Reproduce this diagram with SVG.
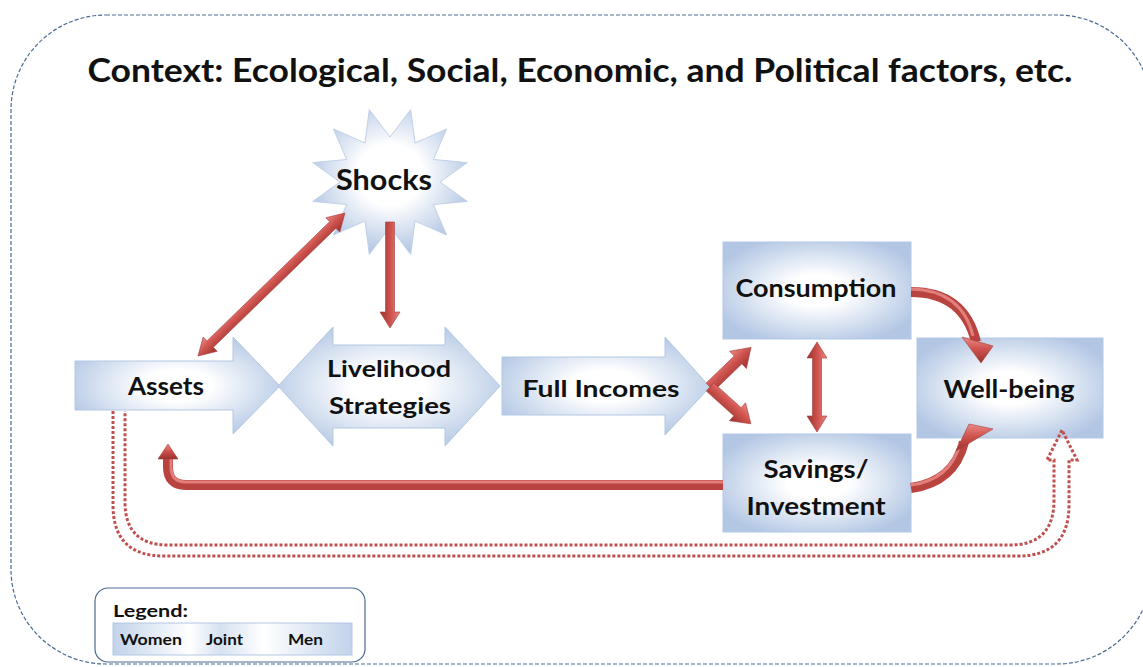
<svg xmlns="http://www.w3.org/2000/svg" width="1143" height="667" viewBox="0 0 1143 667">
<defs>
<radialGradient id="blueG" cx="50%" cy="50%" r="58%">
<stop offset="0" stop-color="#ffffff"/>
<stop offset="0.28" stop-color="#ffffff"/>
<stop offset="1" stop-color="#b3c7e4"/>
</radialGradient>
<radialGradient id="starG" cx="50%" cy="45%" r="55%">
<stop offset="0" stop-color="#ffffff"/>
<stop offset="0.38" stop-color="#ffffff"/>
<stop offset="1" stop-color="#b3c6e3"/>
</radialGradient>
<linearGradient id="legG" x1="0" y1="0" x2="1" y2="0">
<stop offset="0" stop-color="#c2d3ea"/>
<stop offset="0.32" stop-color="#ffffff"/>
<stop offset="0.45" stop-color="#d6e1f0"/>
<stop offset="0.63" stop-color="#ffffff"/>
<stop offset="1" stop-color="#c2d3ea"/>
</linearGradient>
<linearGradient id="redG" x1="0" y1="0" x2="0" y2="1">
<stop offset="0" stop-color="#e98985"/>
<stop offset="0.45" stop-color="#d0544f"/>
<stop offset="1" stop-color="#9a312e"/>
</linearGradient>
<style>
.node{fill:url(#blueG);stroke:#b3c8e3;stroke-width:1}
.lbl{font-family:Lato,"Open Sans","Liberation Sans",sans-serif;font-weight:bold;fill:#111;text-anchor:middle}
.leg{font-family:Lato,"Open Sans","Liberation Sans",sans-serif;font-weight:bold;fill:#111}
.red{fill:url(#redG);stroke:#a63c39;stroke-width:0.6}
.curve{fill:none;stroke:#b8433f;stroke-width:10}
.curveHi{fill:none;stroke:#e27f7b;stroke-width:3}
.dots{fill:none;stroke:#c0504d;stroke-width:3;stroke-dasharray:3 2}
</style>
</defs>
<rect width="1143" height="667" fill="#ffffff"/>
<rect id="context" x="11" y="15" width="1141" height="649" rx="95" ry="95" fill="none" stroke="#4a6a94" stroke-width="1.2" stroke-dasharray="4 2"/>
<text class="lbl" x="580" y="82" font-size="33" textLength="985" lengthAdjust="spacingAndGlyphs">Context: Ecological, Social, Economic, and Political factors, etc.</text>

<g id="shocks">
<polygon points="410.7,109.6 415,143 446.6,129 433.3,159.5 467.3,162.6 440,182 467.3,201.4 433.3,204.5 446.6,235 415,221 410.7,254.4 390,227 369.3,254.4 365,221 333.4,235 346.7,204.5 312.7,201.4 340,182 312.7,162.6 346.7,159.5 333.4,129 365,143 369.3,109.6 390,137" fill="url(#starG)" stroke="#c0d1e8" stroke-width="1"/>
<text class="lbl" x="384" y="190" font-size="28" textLength="96" lengthAdjust="spacingAndGlyphs">Shocks</text>
</g>

<g id="assets">
<path class="node" d="M75,361 L233,361 L233,337 L280,386 L233,434 L233,410 L75,410 Z"/>
<text class="lbl" x="166" y="395" font-size="24" textLength="76" lengthAdjust="spacingAndGlyphs">Assets</text>
</g>

<g id="livelihood">
<path class="node" d="M278,386 L333,327 L333,345 L445,345 L445,327 L500,386 L445,446 L445,428 L333,428 L333,446 Z"/>
<text class="lbl" x="389" y="377" font-size="23" textLength="124" lengthAdjust="spacingAndGlyphs">Livelihood</text>
<text class="lbl" x="390" y="414" font-size="23" textLength="122" lengthAdjust="spacingAndGlyphs">Strategies</text>
</g>

<g id="fullincomes">
<path class="node" d="M502,357 L665,357 L665,337 L710,387 L665,435 L665,415 L502,415 Z"/>
<text class="lbl" x="601" y="397" font-size="23" textLength="157" lengthAdjust="spacingAndGlyphs">Full Incomes</text>
</g>

<g id="consumption">
<rect class="node" x="723" y="242" width="188" height="97"/>
<text class="lbl" x="816" y="297" font-size="24" textLength="161" lengthAdjust="spacingAndGlyphs">Consumption</text>
</g>

<g id="savings">
<rect class="node" x="723" y="434" width="188" height="98"/>
<text class="lbl" x="816" y="478" font-size="24" textLength="105" lengthAdjust="spacingAndGlyphs">Savings/</text>
<text class="lbl" x="816" y="515" font-size="24" textLength="139" lengthAdjust="spacingAndGlyphs">Investment</text>
</g>

<g id="wellbeing">
<rect class="node" x="917" y="338" width="186" height="100"/>
<text class="lbl" x="1009" y="398" font-size="24" textLength="131" lengthAdjust="spacingAndGlyphs">Well-being</text>
</g>

<g id="connectors">
<path class="dots" d="M113,411 L113,505 Q113,556 164,556 L1018,556 Q1069,556 1069,505 L1069,460 L1077,460 L1062,430 L1047,460 L1054,460 L1054,500 Q1054,545 1010,545 L168,545 Q125,545 125,502 L125,411"/>
<path class="curve" d="M723,485 L186,485 Q168,485 168,467 L168,458"/>
<path class="curveHi" d="M723,482 L186,482 Q171,482 171,467 L171,458"/>
<path class="red" d="M168,444 L178,459 L158,459 Z"/>
<path class="red" transform="translate(198,356) rotate(-44.2)" d="M0,0 L17,-10 L17,-4.5 L188,-4.5 L188,-10 L205,0 L188,10 L188,4.5 L17,4.5 L17,10 Z"/>
<path class="red" transform="translate(390,222) rotate(90)" d="M0,-4.5 L90,-4.5 L90,-10 L106,0 L90,10 L90,4.5 L0,4.5 Z"/>
<path class="red" transform="translate(817,342) rotate(90)" d="M0,0 L16,-10 L16,-4.5 L74,-4.5 L74,-10 L90,0 L74,10 L74,4.5 L16,4.5 L16,10 Z"/>
<path class="red" transform="translate(710,387) rotate(-44)" d="M0,-5.5 L39,-5.5 L39,-12 L57,0 L39,12 L39,5.5 L0,5.5 Z"/>
<path class="red" transform="translate(710,387) rotate(42)" d="M0,-5.5 L37,-5.5 L37,-12 L55,0 L37,12 L37,5.5 L0,5.5 Z"/>
<path class="curve" d="M911,292 Q964,292 976,342"/>
<path class="curveHi" d="M911,289 Q962,290 973,336"/>
<path class="red" d="M981,363 L962,337 L993,346 Z"/>
<path class="curve" d="M911,488 Q954,482 964,442"/>
<path class="curveHi" d="M911,485 Q950,480 960,444"/>
<path class="red" d="M993,429 L969,424 L956,451 Z"/>
</g>

<g id="legend">
<rect x="95" y="588" width="270" height="74" rx="13" ry="13" fill="#ffffff" stroke="#4a6a94" stroke-width="1.2"/>
<text class="leg" x="113" y="617" font-size="17" textLength="75" lengthAdjust="spacingAndGlyphs">Legend:</text>
<rect x="113" y="623" width="239" height="32" fill="url(#legG)" stroke="#b3c8e3" stroke-width="1"/>
<text class="leg" x="120" y="645" font-size="15" textLength="62" lengthAdjust="spacingAndGlyphs">Women</text>
<text class="leg" x="206" y="645" font-size="15" textLength="37" lengthAdjust="spacingAndGlyphs">Joint</text>
<text class="leg" x="288" y="645" font-size="15" textLength="35" lengthAdjust="spacingAndGlyphs">Men</text>
</g>
</svg>
